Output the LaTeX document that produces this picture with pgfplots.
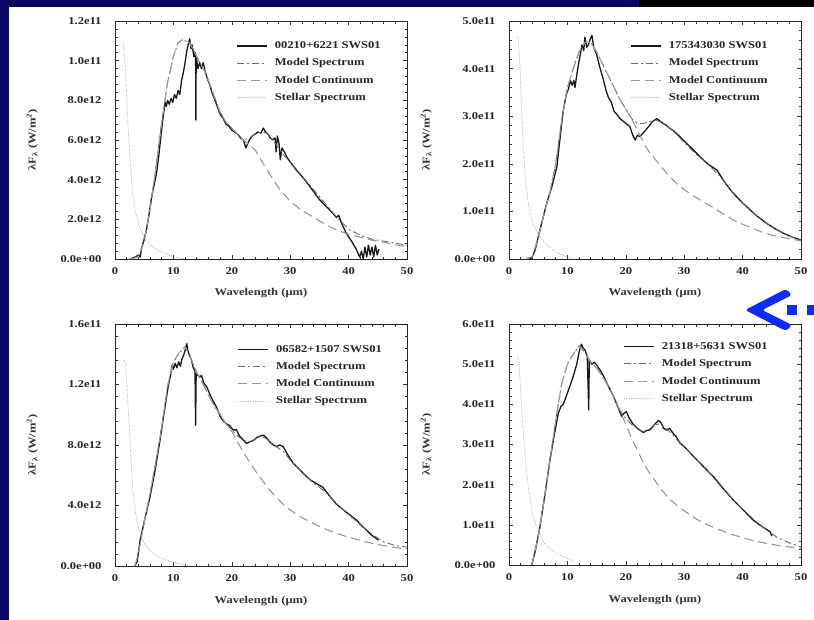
\documentclass[border=0pt]{standalone}
\usepackage{pgfplots}
\pgfplotsset{compat=1.18}
\usepackage{fontspec}
\setmainfont[FakeStretch=1.2]{Liberation Serif}
\definecolor{navy}{RGB}{6,6,100}
\definecolor{arrowblue}{RGB}{10,45,250}
\newcommand\lbl{\fontsize{10.5}{12}\selectfont\bfseries}
\pgfplotsset{
  panel/.style={
    scale only axis, width=292bp,
    xmin=0, xmax=50, ymin=0,
    xtick={0,10,20,30,40,50}, xticklabels={0,10,20,30,40,50},
    minor x tick num=4, minor y tick num=4,
    tick align=inside,
    major tick length=4bp, minor tick length=2.5bp,
    every tick/.style={black!80, line width=0.6pt},
    axis line style={black!85, line width=0.8pt},
    tick label style={font=\lbl, black!85},
    yticklabel style={xshift=-10bp},
    xticklabel style={yshift=-5bp},
    label style={font=\lbl, black!80},
    xlabel={Wavelength (μm)},
    ylabel={λF\textsubscript{λ} (W/m\textsuperscript{2})},
    xlabel style={at={(axis description cs:0.5,-0.145)}, anchor=center},
    ylabel style={at={(axis description cs:-0.283,0.5)}, anchor=center, rotate=0},
    legend style={draw=none, fill=none, font=\lbl, text=black!85, anchor=north west, row sep=5.5bp, inner sep=0pt,
      nodes={inner sep=1.5bp}},
    legend cell align=left,
    legend image code/.code={\draw[#1] (0bp,0bp) -- (30bp,0bp); \path (36bp,0bp);},
  },
  obs/.style={black!90, line width=1.3bp, line join=round},
  mspec/.style={gray!85!black, line width=0.9bp, dash pattern=on 7bp off 3bp on 2bp off 3bp},
  mcont/.style={gray!80, line width=1.1bp, dash pattern=on 9bp off 5bp},
  stell/.style={gray!60, line width=0.8bp, dash pattern=on 1bp off 1.5bp},
}
\begin{document}
\begin{tikzpicture}
\useasboundingbox (0,0) rectangle (814bp,-620bp);
\fill[navy] (0,0) rectangle (814bp,-620bp);
\fill[white] (9bp,-7bp) rectangle (814bp,-620bp);
\fill[black] (639bp,0) rectangle (814bp,-7bp);
% ---------------- Panel 1
\begin{axis}[panel, at={(115bp,-259bp)}, anchor=south west, height=238bp,
  ymax=12, ytick={0,2,4,6,8,10,12},
  yticklabels={0.0e+00,2.0e12,4.0e12,6.0e12,8.0e12,1.0e11,1.2e11},
  legend style={at={(axis description cs:0.414,0.92)}}]
\addplot[obs] coordinates {(2.5,0)(3,0.05)(3.5,0.1)(4,0.2)(4.3,0.1)(4.6,0.6)(5,1.0)(5.4,1.5)(5.8,2.2)(6.2,3.0)(6.6,3.6)(7.1,4.3)(7.5,5.2)(7.9,6.3)(8.3,7.3)(8.6,7.9)(8.8,7.7)(9.0,8.0)(9.3,7.8)(9.6,8.1)(9.9,7.9)(10.2,8.3)(10.5,8.1)(10.8,8.5)(11.1,8.3)(11.4,9.0)(11.7,9.4)(12.0,9.9)(12.3,10.5)(12.6,10.9)(12.8,11.1)(13.0,10.6)(13.2,10.8)(13.5,10.2)(13.8,10.4)(13.85,7.0)(13.9,10.2)(14.2,9.6)(14.5,9.9)(14.8,9.6)(15.1,9.9)(15.4,9.5)(15.8,9.1)(16.2,8.8)(16.6,8.4)(17.0,8.1)(17.5,7.7)(18.0,7.3)(18.5,7.1)(19.0,6.8)(19.5,6.7)(20.0,6.5)(20.5,6.4)(21.0,6.3)(21.5,6.1)(22.0,6.0)(22.4,5.6)(22.7,5.8)(23.0,6.0)(23.5,6.2)(24.0,6.3)(24.5,6.4)(25.0,6.35)(25.4,6.6)(25.8,6.4)(26.2,6.3)(26.6,6.1)(27.0,6.0)(27.4,6.1)(27.6,5.4)(27.8,6.2)(28.1,5.8)(28.3,5.0)(28.6,5.6)(29.0,5.4)(29.5,5.1)(30.0,4.9)(30.5,4.7)(31.0,4.5)(31.6,4.3)(32.2,4.1)(33.0,3.8)(34.0,3.4)(35.0,3.0)(36.0,2.7)(37.0,2.4)(37.9,2.1)(38.3,2.2)(38.8,1.8)(39.6,1.3)(40.5,0.9)(41.3,0.5)(41.9,0.1)(42.2,0.4)(42.5,0.0)(42.8,0.6)(43.1,0.1)(43.4,0.7)(43.7,0.2)(44.0,0.6)(44.3,0.1)(44.6,0.7)(44.9,0.2)(45.2,0.5)};
\addlegendentry{00210+6221 SWS01}
\addplot[mspec] coordinates {(2.5,0)(4,0.1)(5,0.9)(6,2.5)(7,4.6)(8,6.9)(9,8.9)(10,10.2)(10.8,10.9)(11.5,11.05)(12,11.0)(12.8,10.9)(13.5,10.5)(14.5,9.9)(15.5,9.4)(17,8.2)(18,7.4)(19,6.9)(20,6.6)(21,6.3)(22,6.0)(23,6.1)(24,6.3)(25,6.4)(26,6.35)(27,6.0)(28,5.6)(29,5.2)(30,4.9)(32,4.2)(34,3.5)(36,2.8)(38,2.1)(40,1.5)(42,1.2)(44,1.0)(46,0.9)(48,0.8)(50,0.7)};
\addlegendentry{Model Spectrum}
\addplot[mcont] coordinates {(2.5,0)(4,0.1)(5,0.9)(6,2.5)(7,4.6)(8,6.9)(9,8.9)(10,10.2)(10.8,10.9)(11.5,11.05)(12,11.0)(12.8,10.9)(13.5,10.5)(14.5,9.9)(15.5,9.4)(17,8.2)(18,7.4)(19,6.9)(20,6.6)(21,6.3)(22,6.0)(24,5.5)(26,4.5)(28,3.6)(30,2.9)(32,2.45)(34,2.1)(36,1.75)(38,1.45)(40,1.25)(42,1.1)(44,0.95)(46,0.85)(48,0.72)(50,0.62)};
\addlegendentry{Model Continuum}
\addplot[stell] coordinates {(1.35,10.9)(1.5,10.7)(1.8,9.5)(2.1,7.5)(2.4,5.8)(2.7,4.5)(3.0,3.4)(3.5,2.4)(4.0,1.8)(4.5,1.4)(5,1.1)(6,0.75)(7,0.5)(8,0.35)(9,0.22)(10,0.12)(11,0.05)(12,0)};
\addlegendentry{Stellar Spectrum}
\end{axis}
% ---------------- Panel 2
\begin{axis}[panel, at={(509bp,-259bp)}, anchor=south west, height=238bp,
  ymax=5, ytick={0,1,2,3,4,5},
  yticklabels={0.0e+00,1.0e11,2.0e11,3.0e11,4.0e11,5.0e11},
  legend style={at={(axis description cs:0.414,0.92)}}]
\addplot[obs] coordinates {(3,0)(3.9,0.02)(4.5,0.2)(5.3,0.61)(5.9,0.9)(6.45,1.17)(7.3,1.5)(8.2,1.94)(8.8,2.6)(9.3,3.13)(9.8,3.45)(10.2,3.58)(10.5,3.75)(10.8,3.65)(11.1,3.75)(11.3,3.6)(11.7,3.95)(12.2,4.3)(12.5,4.5)(12.8,4.38)(13.0,4.66)(13.3,4.45)(13.6,4.5)(13.9,4.62)(14.2,4.7)(14.5,4.45)(15.0,4.3)(15.5,4.05)(16.2,3.75)(16.6,3.55)(17.0,3.4)(17.5,3.3)(18.0,3.1)(18.4,3.05)(19.0,2.95)(19.5,2.9)(20.0,2.85)(20.7,2.78)(21.2,2.6)(21.6,2.5)(22.0,2.6)(22.4,2.57)(23.0,2.65)(23.9,2.78)(24.5,2.88)(25.3,2.95)(25.8,2.9)(26.4,2.85)(27.0,2.8)(27.5,2.75)(28.1,2.7)(29.0,2.6)(30.4,2.43)(31.5,2.3)(32.7,2.15)(34.0,2.0)(35.6,1.87)(37.0,1.6)(38.4,1.38)(40.0,1.18)(41.3,1.03)(42.5,0.9)(44.1,0.75)(45.5,0.64)(47,0.54)(48.5,0.46)(50,0.4)};
\addlegendentry{175343030 SWS01}
\addplot[mspec] coordinates {(3,0)(4,0.05)(5,0.45)(6,0.95)(7,1.4)(8,2.0)(9,2.9)(10,3.6)(11,4.0)(12,4.35)(13,4.55)(14,4.55)(15,4.35)(16,4.1)(17,3.85)(18,3.6)(19,3.35)(20,3.15)(21,2.95)(22,2.85)(23,2.85)(24,2.88)(25,2.92)(26,2.88)(27,2.8)(28,2.7)(30,2.45)(32,2.2)(34,2.0)(36,1.75)(38,1.45)(40,1.18)(42,0.95)(44,0.76)(46,0.6)(48,0.48)(50,0.4)};
\addlegendentry{Model Spectrum}
\addplot[mcont] coordinates {(3,0)(4,0.05)(5,0.45)(6,0.95)(7,1.4)(8,2.0)(9,2.9)(10,3.6)(11,4.0)(12,4.35)(13,4.55)(14,4.55)(15,4.35)(16,4.1)(17,3.85)(18,3.6)(19,3.35)(20,3.15)(21,2.95)(22,2.7)(23,2.45)(24,2.25)(25,2.1)(26,1.95)(27,1.8)(29,1.55)(31,1.37)(33,1.22)(35,1.08)(37,0.92)(39,0.78)(41,0.68)(43,0.58)(45,0.5)(47,0.45)(50,0.38)};
\addlegendentry{Model Continuum}
\addplot[stell] coordinates {(1.45,4.66)(1.6,4.6)(1.9,4.0)(2.2,3.0)(2.45,2.3)(2.8,1.7)(3.2,1.25)(3.6,0.96)(4.2,0.7)(5.3,0.47)(6.4,0.3)(7.6,0.19)(8.8,0.1)(9.9,0.05)(11,0)};
\addlegendentry{Stellar Spectrum}
\end{axis}
% ---------------- Panel 3
\begin{axis}[panel, at={(115bp,-566bp)}, anchor=south west, height=242bp,
  ymax=16, ytick={0,4,8,12,16},
  yticklabels={0.0e+00,4.0e12,8.0e12,1.2e11,1.6e11},
  legend style={at={(axis description cs:0.418,0.92)}}]
\addplot[obs] coordinates {(3.4,0)(3.8,0.3)(4.3,1.7)(5.1,3.1)(6.0,4.57)(6.9,6.4)(7.7,8.3)(8.4,10.1)(9.1,11.85)(9.5,12.6)(9.8,13.3)(10.0,13.0)(10.3,13.4)(10.6,13.1)(10.9,13.5)(11.2,13.2)(11.4,13.6)(11.8,14.0)(12.1,14.4)(12.3,14.7)(12.5,14.2)(12.8,13.9)(13.1,13.6)(13.4,13.1)(13.7,12.9)(13.8,9.3)(13.9,12.7)(14.2,12.6)(14.5,12.5)(14.8,12.6)(15.2,12.1)(15.7,11.85)(16.2,11.4)(16.8,10.9)(17.4,10.5)(18.0,9.9)(18.5,9.6)(19.1,9.4)(19.6,9.3)(20.2,9.0)(20.8,9.0)(21.3,8.6)(21.8,8.4)(22.5,8.1)(23.0,8.2)(23.7,8.3)(24.3,8.5)(24.9,8.6)(25.4,8.65)(25.9,8.5)(26.5,8.2)(27.1,8.0)(27.7,7.9)(28.2,8.0)(28.8,7.9)(29.5,7.4)(30.0,7.1)(30.5,6.8)(31.3,6.5)(32.3,6.1)(33.4,5.7)(34.5,5.45)(35.6,5.2)(36.6,4.7)(37.9,4.1)(39.3,3.65)(40.8,3.2)(41.5,3.0)(42.0,2.75)(43.0,2.4)(43.9,2.05)(44.8,1.8)(45.1,1.7)};
\addlegendentry{06582+1507 SWS01}
\addplot[mspec] coordinates {(3.4,0)(4,0.8)(5,2.9)(6,4.8)(7,6.9)(8,9.2)(9,11.9)(10,13.5)(11,14.1)(12,14.5)(13,13.7)(14,12.8)(15,12.1)(16,11.3)(17,10.6)(18,10.0)(19,9.4)(20,9.0)(21,8.6)(22,8.3)(23,8.2)(24,8.4)(25,8.6)(26,8.4)(27,8.0)(28,7.8)(29,7.5)(30,7.0)(32,6.2)(34,5.5)(36,4.9)(38,4.1)(40,3.4)(42,2.75)(44,2.1)(46,1.6)(48,1.35)(50,1.25)};
\addlegendentry{Model Spectrum}
\addplot[mcont] coordinates {(3.4,0)(4,0.8)(5,2.9)(6,4.8)(7,6.9)(8,9.2)(9,11.9)(10,13.5)(11,14.1)(12,14.5)(13,13.7)(14,12.8)(15,12.1)(16,11.3)(17,10.6)(18,10.0)(19,9.4)(20,8.9)(21,8.2)(22,7.5)(23,6.9)(24,6.3)(25,5.8)(26,5.25)(27,4.8)(28,4.4)(29,4.0)(30,3.7)(32,3.2)(34,2.8)(36,2.45)(38,2.15)(40,1.9)(42,1.7)(44,1.5)(46,1.35)(48,1.22)(50,1.12)};
\addlegendentry{Model Continuum}
\addplot[stell] coordinates {(1.6,13.6)(1.8,13.4)(2.1,11.5)(2.4,9.4)(2.6,8.1)(2.9,6.0)(3.1,4.8)(3.6,3.3)(4.3,2.1)(5.0,1.5)(6.0,1.0)(7.0,0.7)(8.0,0.5)(8.8,0.4)(10,0.25)(11.1,0.15)(12,0.05)(13,0)};
\addlegendentry{Stellar Spectrum}
\end{axis}
% ---------------- Panel 4
\begin{axis}[panel, at={(509bp,-565bp)}, anchor=south west, height=241bp,
  ymax=6, ytick={0,1,2,3,4,5,6},
  yticklabels={0.0e+00,1.0e11,2.0e11,3.0e11,4.0e11,5.0e11,6.0e11},
  legend style={at={(axis description cs:0.39,0.93)}}]
\addplot[obs] coordinates {(3.9,0)(4.5,0.35)(5.3,0.95)(6.2,1.8)(7.0,2.6)(7.7,3.2)(8.45,3.78)(8.9,3.95)(9.3,4.0)(9.8,4.2)(10.4,4.44)(11.0,4.7)(11.6,5.0)(12.0,5.3)(12.4,5.5)(12.7,5.4)(13.0,5.35)(13.4,5.2)(13.65,3.86)(13.75,5.1)(14.2,5.0)(14.6,5.05)(15.0,4.98)(15.6,4.85)(16.2,4.7)(17.0,4.45)(17.9,4.2)(18.6,3.95)(19.3,3.7)(19.7,3.78)(20.1,3.82)(20.6,3.65)(21.3,3.5)(22.0,3.4)(23.0,3.3)(23.6,3.35)(24.1,3.36)(24.8,3.48)(25.6,3.6)(26.0,3.55)(26.5,3.4)(27.0,3.36)(27.5,3.4)(28.1,3.28)(28.6,3.2)(29.3,3.03)(30.0,2.95)(31.6,2.7)(33.3,2.45)(35.0,2.2)(36.7,1.9)(38.4,1.62)(40.1,1.37)(41.8,1.12)(43.2,0.97)(44.7,0.83)(45.0,0.72)};
\addlegendentry{21318+5631 SWS01}
\addplot[mspec] coordinates {(3.9,0)(5,0.7)(6,1.6)(7,2.6)(8,3.6)(9,4.5)(10,5.0)(11,5.25)(12,5.45)(13,5.3)(14,5.05)(15,4.9)(16,4.7)(17,4.45)(18,4.15)(19,3.85)(20,3.65)(21,3.5)(22,3.4)(23,3.32)(24,3.38)(25,3.5)(26,3.5)(27,3.38)(28,3.25)(29,3.08)(30,2.95)(32,2.65)(34,2.35)(36,2.0)(38,1.68)(40,1.4)(42,1.12)(44,0.88)(46,0.68)(48,0.55)(50,0.45)};
\addlegendentry{Model Spectrum}
\addplot[mcont] coordinates {(3.9,0)(5,0.7)(6,1.6)(7,2.6)(8,3.6)(9,4.5)(10,5.0)(11,5.25)(12,5.45)(13,5.3)(14,5.05)(15,4.9)(16,4.7)(17,4.45)(18,4.15)(19,3.85)(20,3.5)(21,3.15)(22,2.85)(23,2.55)(24,2.3)(25,2.1)(26,1.9)(27,1.72)(28,1.58)(29,1.45)(30,1.35)(32,1.15)(34,1.0)(36,0.88)(38,0.77)(40,0.68)(42,0.6)(44,0.54)(46,0.49)(48,0.45)(50,0.41)};
\addlegendentry{Model Continuum}
\addplot[stell] coordinates {(1.45,5.19)(1.6,5.15)(1.9,4.6)(2.2,3.8)(2.45,3.28)(2.9,2.5)(3.3,1.95)(4.0,1.3)(4.7,0.95)(5.5,0.68)(6.45,0.46)(8.0,0.3)(9.9,0.17)(11,0.08)(12,0)};
\addlegendentry{Stellar Spectrum}
\end{axis}
% ---------------- arrow
\fill[arrowblue, rounded corners=3bp] (745bp,-310bp) -- (786bp,-289bp) -- (792bp,-295bp) -- (762bp,-310bp) -- (792bp,-325bp) -- (786bp,-331bp) -- cycle;
\fill[arrowblue] (787bp,-305bp) rectangle (797bp,-315bp);
\fill[arrowblue] (807bp,-305bp) rectangle (814bp,-315bp);
\end{tikzpicture}
\end{document}
